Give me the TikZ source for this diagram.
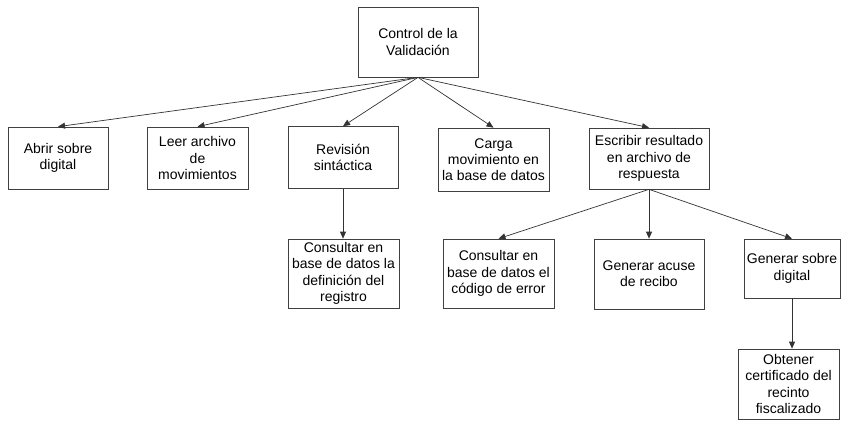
\documentclass[tikz,border=0pt]{standalone}
\usepackage{fontspec}
\setmainfont{Liberation Sans}
\usetikzlibrary{arrows.meta}

\begin{document}
\begin{tikzpicture}[x=1pt,y=-1pt,>={Triangle[length=7pt,width=6pt]},
  caja/.style={draw=black!75,line width=0.7pt,align=center,inner sep=1pt,
    font=\fontsize{14}{16.3}\selectfont},
  flecha/.style={->,draw=black!80,line width=0.7pt}]
\useasboundingbox (0,0) rectangle (842,421);
% Top box, then the five tasks under it.
\node[caja,minimum width=120pt,minimum height=70pt] (control) at (418,42) {Control de la\\Validación};
\node[caja,minimum width=100pt,minimum height=62pt] (abrir) at (58,158) {Abrir sobre\\digital};
\node[caja,minimum width=101pt,minimum height=62pt] (leer) at (197.5,158) {Leer archivo\\de\\movimientos};
\node[caja,minimum width=110pt,minimum height=62pt] (revision) at (343,157.5) {Revisión\\sintáctica};
\node[caja,minimum width=111pt,minimum height=63pt] (carga) at (493.5,159.5) {Carga\\movimiento en\\la base de datos};
\node[caja,minimum width=120pt,minimum height=61pt] (escribir) at (649,158.5) {Escribir resultado\\en archivo de\\respuesta};
% Third row.
\node[caja,minimum width=111pt,minimum height=69pt] (consreg) at (343.5,273.5) {Consultar en\\base de datos la\\definición del\\registro};
\node[caja,minimum width=111pt,minimum height=69pt] (conserr) at (498.5,273.5) {Consultar en\\base de datos el\\código de error};
\node[caja,minimum width=110pt,minimum height=70pt] (acuse) at (649,274) {Generar acuse\\de recibo};
\node[caja,minimum width=96pt,minimum height=59pt] (sobre) at (792,268.5) {Generar sobre\\digital};
\node[caja,minimum width=101pt,minimum height=70pt] (obtener) at (788.5,384) {Obtener\\certificado del\\recinto\\fiscalizado};
\draw[flecha] (control.south) -- (abrir.north);
\draw[flecha] (control.south) -- (leer.north);
\draw[flecha] (control.south) -- (revision.north);
\draw[flecha] (control.south) -- (carga.north);
\draw[flecha] (control.south) -- (escribir.north);
\draw[flecha] (revision.south) -- (revision.south |- consreg.north);
\draw[flecha] (escribir.south) -- (conserr.north);
\draw[flecha] (escribir.south) -- (acuse.north);
\draw[flecha] (escribir.south) -- (sobre.north);
\draw[flecha] (sobre.south) -- (sobre.south |- obtener.north);
\end{tikzpicture}
\end{document}
